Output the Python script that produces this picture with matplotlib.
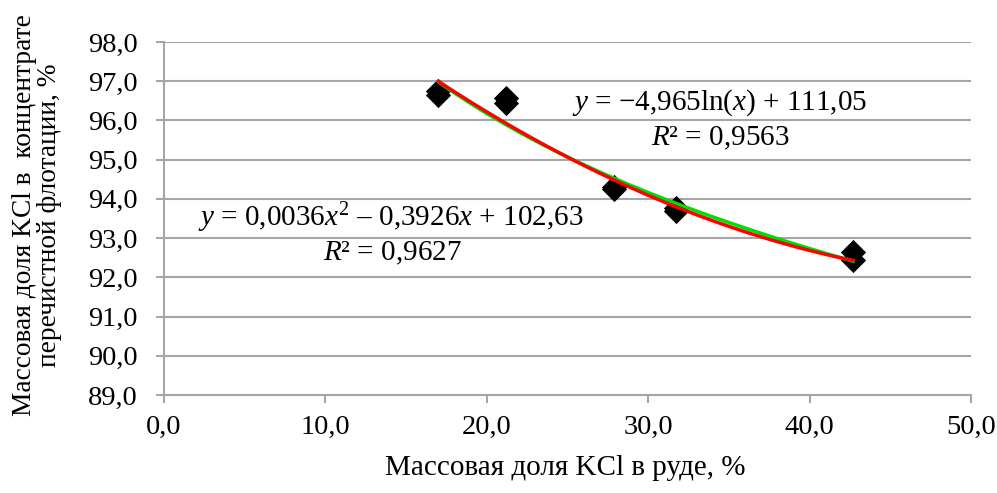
import numpy as np
import matplotlib
matplotlib.use("Agg")
import matplotlib.pyplot as plt

plt.rcParams['font.family'] = ['Liberation Serif', 'DejaVu Serif']
plt.rcParams['mathtext.fontset'] = 'custom'
plt.rcParams['mathtext.rm'] = 'Liberation Serif'
plt.rcParams['mathtext.it'] = 'Liberation Serif:italic'

# data
x_ore = [17.0, 17.0, 21.2, 21.2, 27.9, 27.9, 31.7, 31.7, 42.7, 42.7]
y_conc = [96.74, 96.64, 96.58, 96.44, 94.30, 94.24, 93.78, 93.68, 92.64, 92.44]

log_coef = [-4.965, 111.05]          # y = a ln(x) + b
poly_coef = [0.0036, -0.3926, 102.63]  # y = a x^2 + b x + c

x_ticks = [0, 10, 20, 30, 40, 50]
y_ticks = [89, 90, 91, 92, 93, 94, 95, 96, 97, 98]

W, H = 997, 493
fig = plt.figure(figsize=(W/100, H/100), dpi=100)
ax = fig.add_axes([164/W, 1-395/H, (971-164)/W, (395-42)/H])

grid_c = '#a6a6a6'
ax.set_xlim(0, 50)
ax.set_ylim(89, 98)
for yv in y_ticks[1:]:
    ax.axhline(yv, color=grid_c, lw=1.5, zorder=1)

xs = np.linspace(min(x_ore), max(x_ore), 200)
ax.plot(xs, log_coef[0]*np.log(xs) + log_coef[1], color='#00e000', lw=2.5, zorder=3)
ax.plot(xs, np.polyval(poly_coef, xs), color='#ff0000', lw=2.5, zorder=4)
ax.scatter(x_ore, y_conc, marker='D', s=165, color='black', zorder=2, linewidths=0)

for s in ['top', 'right']:
    ax.spines[s].set_visible(False)
for s in ['left', 'bottom']:
    ax.spines[s].set_color(grid_c)
    ax.spines[s].set_linewidth(1.5)

ax.set_xticks(x_ticks)
ax.set_yticks(y_ticks)
ax.set_xticklabels([f"{v:.1f}".replace('.', ',') for v in x_ticks])
ax.set_yticklabels([f"{v:.1f}".replace('.', ',') for v in y_ticks])
ax.tick_params(axis='both', colors=grid_c, labelcolor='black', labelsize=20.5,
               length=6, width=1.5, direction='out')
ax.tick_params(axis='x', pad=8)
ax.tick_params(axis='y', pad=13)

fig.text(565/W, 1-468/H, "Массовая доля KCl в руде, %", fontsize=21,
         ha='center', va='center')
fig.text(37/W, 1-215/H, "Массовая доля KCl в  концентрате\nперечистной флотации, %",
         fontsize=19.7, ha='center', va='center', rotation=90, linespacing=0.98,
         multialignment='center')

fs = 21
fig.text(720/W, 1-103/H, "$y$ = −4,965ln($x$) + 111,05", fontsize=fs, ha='center', va='center')
fig.text(720/W, 1-138/H, "$R$² = 0,9563", fontsize=fs, ha='center', va='center')
fig.text(391/W, 1-218/H, "$y$ = 0,0036$x^2$ – 0,3926$x$ + 102,63", fontsize=fs, ha='center', va='center')
fig.text(392/W, 1-253/H, "$R$² = 0,9627", fontsize=fs, ha='center', va='center')

fig.savefig("out.png", dpi=100)
